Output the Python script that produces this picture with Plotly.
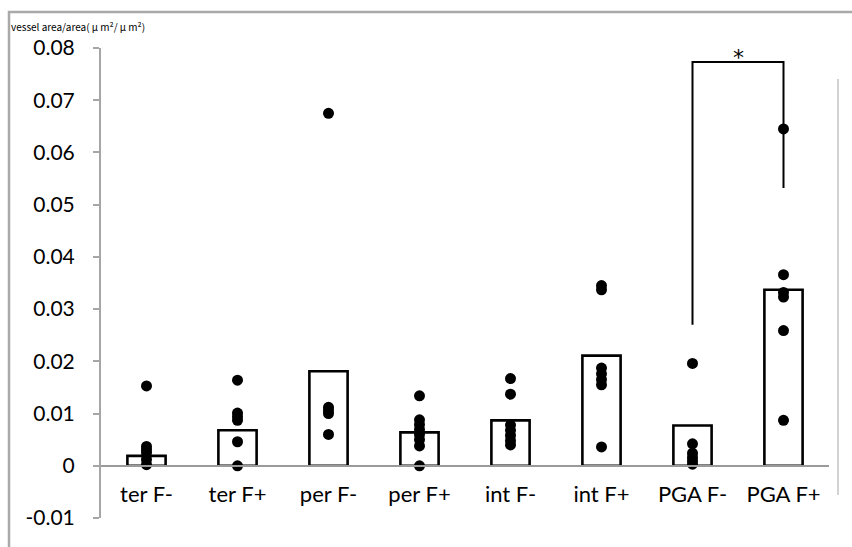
import plotly.graph_objects as go

categories = ["ter F-", "ter F+", "per F-", "per F+", "int F-", "int F+", "PGA F-", "PGA F+"]
bar_means = [0.0019, 0.0068, 0.0181, 0.0064, 0.0087, 0.0211, 0.0077, 0.0337]

pts_ter_fm = [0.0153, 0.0037, 0.0031, 0.0025, 0.0012, 0.0002]
pts_ter_fp = [0.0164, 0.0101, 0.0094, 0.0087, 0.0046, 0.0]
pts_per_fm = [0.0675, 0.0112, 0.0106, 0.0100, 0.0060]
pts_per_fp = [0.0134, 0.0088, 0.0079, 0.0069, 0.0060, 0.0050, 0.0038, 0.0]
pts_int_fm = [0.0167, 0.0137, 0.0078, 0.0068, 0.0058, 0.0048, 0.0040]
pts_int_fp = [0.0345, 0.0337, 0.0187, 0.0176, 0.0165, 0.0155, 0.0036]
pts_pga_fm = [0.0196, 0.0042, 0.0024, 0.0016, 0.0009, 0.0003]
pts_pga_fp = [0.0645, 0.0366, 0.0332, 0.0323, 0.0259, 0.0087]

points = [pts_ter_fm, pts_ter_fp, pts_per_fm, pts_per_fp,
          pts_int_fm, pts_int_fp, pts_pga_fm, pts_pga_fp]

y_tick_vals = [-0.01, 0, 0.01, 0.02, 0.03, 0.04, 0.05, 0.06, 0.07, 0.08]
y_tick_text = ["-0.01", "0", "0.01", "0.02", "0.03", "0.04", "0.05", "0.06", "0.07", "0.08"]

# significance bracket between PGA F- and PGA F+
bracket_cats = ["PGA F-", "PGA F-", "PGA F+", "PGA F+"]
bracket_y = [0.0270, 0.0773, 0.0773, 0.0532]
sig_label = "*"

y_title = "vessel area/area( μ m²/ μ m²)"

FONT = "Lato, 'Open Sans', sans-serif"

# plot area in pixels
L, T, R, B = 101, 48, 829, 518
PW, PH = R - L, B - T


def px_to_paper(x, y):
    return (x - L) / PW, (B - y) / PH


fig = go.Figure()

fig.add_trace(go.Bar(
    x=categories, y=bar_means,
    marker=dict(color="white", line=dict(color="black", width=2.6)),
    showlegend=False, hoverinfo="skip",
))

px_x, px_y = [], []
for c, vals in zip(categories, points):
    px_x += [c] * len(vals)
    px_y += vals

fig.add_trace(go.Scatter(
    x=px_x, y=px_y, mode="markers",
    marker=dict(color="black", size=11),
    showlegend=False,
))

fig.add_trace(go.Scatter(
    x=bracket_cats, y=bracket_y, mode="lines",
    line=dict(color="black", width=2),
    showlegend=False, hoverinfo="skip",
))

fig.add_annotation(
    x=6.5, y=bracket_y[1], xref="x", yref="y",
    text=sig_label, showarrow=False, yanchor="bottom", yshift=-10,
    font=dict(family="DejaVu Sans", size=22, color="black"),
)

ax, ay = px_to_paper(9, 26)
fig.add_annotation(
    x=ax, y=ay, xref="paper", yref="paper", text=y_title, showarrow=False,
    font=dict(family="Noto Sans CJK JP", size=10, color="black"),
    xanchor="left", yanchor="middle",
)

fig.update_layout(
    width=852, height=547,
    margin=dict(l=L, r=852 - R, t=T, b=547 - B),
    paper_bgcolor="white", plot_bgcolor="white",
    bargap=0.58,
    font=dict(family=FONT, size=20, color="black"),
    xaxis=dict(
        type="category", categoryorder="array", categoryarray=categories,
        range=[-0.5, 7.5],
        anchor="free", position=1 / 9,
        showline=True, linecolor="#9a9a9a", linewidth=2,
        ticks="", ticklabelstandoff=9,
        showgrid=False, zeroline=False,
        tickfont=dict(family=FONT, size=22, color="black"),
    ),
    yaxis=dict(
        range=[-0.01, 0.08],
        tickvals=y_tick_vals, ticktext=y_tick_text,
        showline=True, linecolor="#a6a6a6", linewidth=2,
        ticks="outside", ticklen=6, tickcolor="#a6a6a6", tickwidth=2,
        ticklabelstandoff=14,
        showgrid=False, zeroline=False,
        tickfont=dict(family=FONT, size=21, color="black"),
    ),
)

# outer frame (gray) and right-side vertical line
frame_col = "#a9a9a9"
fx, fy_top = px_to_paper(9, 12)
_, fy_bot = px_to_paper(9, 560)
fx_r, _ = px_to_paper(860, 12)
fig.add_shape(type="path", xref="paper", yref="paper",
              path=f"M {fx} {fy_bot} L {fx} {fy_top} L {fx_r} {fy_top}",
              line=dict(color=frame_col, width=2.5))
rx, ry0 = px_to_paper(838, 495)
_, ry1 = px_to_paper(838, 79)
fig.add_shape(type="line", xref="paper", yref="paper",
              x0=rx, x1=rx, y0=ry0, y1=ry1,
              line=dict(color="#b5b5b5", width=1.2))

fig.write_html("out.html", config={"displayModeBar": False},
               post_script="document.body.style.margin='0';document.body.style.overflow='hidden';")
